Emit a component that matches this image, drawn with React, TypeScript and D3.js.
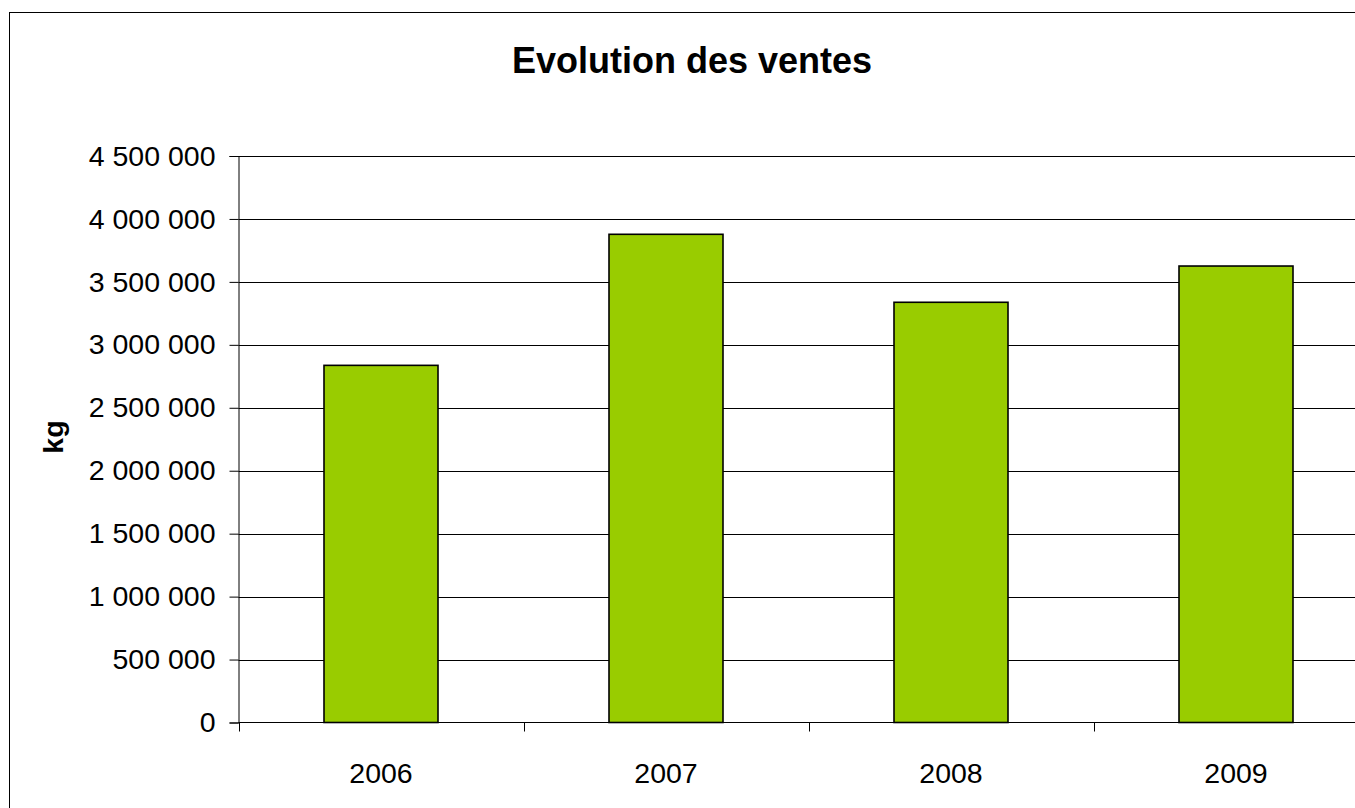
import React, { useEffect, useRef } from "react";
import * as d3 from "d3";

// valeurs
const annees = ["2006", "2007", "2008", "2009"];
const ventes = [2837000, 3878000, 3338000, 3626000];
const yTicks = [0, 500000, 1000000, 1500000, 2000000, 2500000, 3000000, 3500000, 4000000, 4500000];
const titre = "Evolution des ventes";
const uniteY = "kg";

const W = 1355;
const H = 808;
const FONT = "'Liberation Sans', Arial, sans-serif";

function App() {
  const svgRef = useRef<SVGSVGElement>(null);

  useEffect(() => {
    document.body.style.margin = "0";
    const svg = d3.select(svgRef.current);
    svg.selectAll("*").remove();

    const left = 238.5;
    const right = 1378.5;
    const top = 156;
    const bottom = 722.5;

    const fr = d3.formatLocale({ decimal: ",", thousands: " ", grouping: [3], currency: ["", " €"] });
    const fmt = fr.format(",");

    const x = d3.scaleBand().domain(annees).range([left, right]).paddingInner(0.6).paddingOuter(0.3);
    const y = d3.scaleLinear().domain([0, 4500000]).range([bottom, top]);

    // cadre du graphique (coupé à droite et en bas)
    svg.append("rect")
      .attr("x", 9.5).attr("y", 12.5)
      .attr("width", W + 100).attr("height", H + 100)
      .attr("fill", "#fff").attr("stroke", "#000").attr("stroke-width", 1);

    svg.append("text")
      .attr("x", 692).attr("y", 73)
      .attr("text-anchor", "middle")
      .style("font-family", FONT).style("font-weight", "bold").style("font-size", "36px")
      .text(titre);

    // lignes de quadrillage
    svg.append("g").selectAll("line")
      .data(yTicks.filter((v) => v > 0))
      .join("line")
      .attr("x1", left).attr("x2", right)
      .attr("y1", (v) => Math.round(y(v)) + 0.5).attr("y2", (v) => Math.round(y(v)) + 0.5)
      .attr("stroke", "#000").attr("stroke-width", 1);

    // barres
    svg.append("g").selectAll("rect")
      .data(ventes)
      .join("rect")
      .attr("x", (v, i) => x(annees[i])!)
      .attr("y", (v) => y(v))
      .attr("width", x.bandwidth())
      .attr("height", (v) => y(0) - y(v))
      .attr("fill", "#99CC00")
      .attr("stroke", "#000")
      .attr("stroke-width", 1.6);

    // axe Y
    const yAxis = d3.axisLeft(y).tickValues(yTicks).tickSize(9).tickPadding(14).tickFormat((d) => fmt(d as number));
    const gy = svg.append("g").attr("transform", "translate(" + left + ",0)").call(yAxis);
    gy.select(".domain").attr("stroke", "#000");
    gy.selectAll(".tick line").attr("stroke", "#000");
    gy.selectAll(".tick text")
      .attr("fill", "#000")
      .style("font-family", FONT).style("font-size", "28.5px");

    // axe X : graduations entre les catégories
    const bornes = annees.map((a) => x(a)! - (x.step() * 0.6) / 2 - x.bandwidth() * 0 ).map((v, i) => left + i * x.step());
    bornes.push(left + annees.length * x.step());
    svg.append("line")
      .attr("x1", left).attr("x2", right)
      .attr("y1", y(0)).attr("y2", y(0))
      .attr("stroke", "#000");
    svg.append("g").selectAll("line")
      .data(bornes)
      .join("line")
      .attr("x1", (v) => Math.round(v) + 0.5).attr("x2", (v) => Math.round(v) + 0.5)
      .attr("y1", y(0)).attr("y2", y(0) + 9)
      .attr("stroke", "#000");
    svg.append("g").selectAll("text")
      .data(annees)
      .join("text")
      .attr("x", (a) => x(a)! + x.bandwidth() / 2)
      .attr("y", 783)
      .attr("text-anchor", "middle")
      .style("font-family", FONT).style("font-size", "28.5px")
      .text((a) => a);

    // titre de l'axe Y
    svg.append("text")
      .attr("transform", "translate(63,437) rotate(-90)")
      .attr("text-anchor", "middle")
      .style("font-family", FONT).style("font-weight", "bold").style("font-size", "28.5px")
      .text(uniteY);
  }, []);

  return <svg ref={svgRef} width={W} height={H} style={{ display: "block" }}></svg>;
}

export default App;
